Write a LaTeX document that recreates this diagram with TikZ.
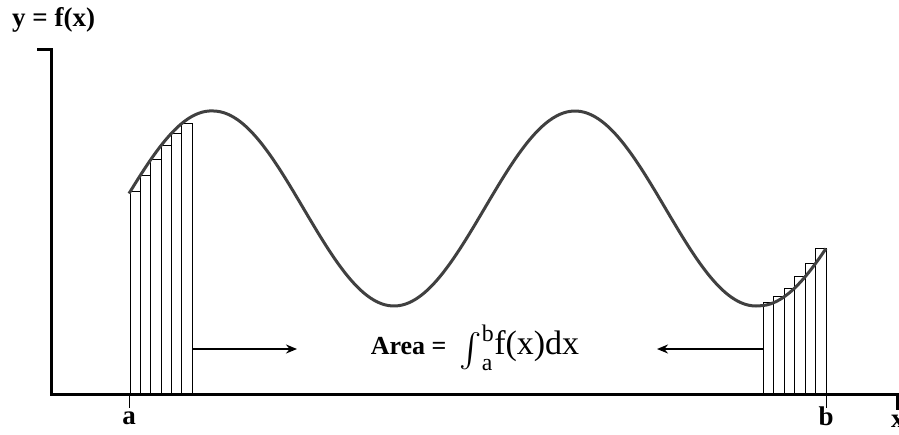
\RequirePackage{fix-cm}
\documentclass[tikz,border=0pt]{standalone}
\usepackage{exscale}
\usepackage{fontspec}
\setmainfont{Liberation Serif}
\usetikzlibrary{arrows.meta}

\begin{document}
\begin{tikzpicture}[x=1pt, y=-1pt,
  declare function={fx(\t)=208.5-97.5*cos(0.994475*(\t-213))
    -4*max(0,(214-\t)/85)+6*max(0,(\t-760)/66);},
  axis/.style={line width=3pt},
  strip/.style={draw, line width=1pt},
  curve/.style={line width=3pt, black!75},
  tick/.style={line width=1pt},
  lbl/.style={font=\fontsize{27}{30}\selectfont\bfseries, inner sep=0pt},
  pointer/.style={line width=2pt, -{Stealth[length=11pt, width=9pt]}}]
  \useasboundingbox (0,0) rectangle (899,434);

  % axes
  \coordinate (top) at (51.5,49.5);
  \coordinate (origin) at (51.5,394);
  \coordinate (xend) at (897,394);
  \draw[axis] (37,49.5) -- (top) -- (origin) -- (xend) -- (897,410);
  \node[lbl, anchor=west] (ylabel) at (12,20) {y = f(x)};
  \node[lbl, anchor=west] (xlabel) at (891,421) {x};

  % limits
  \draw[tick] (129,394) -- (129,408);
  \draw[tick] (826,394) -- (826,408);
  \node[lbl] (a) at (129,418) {a};
  \node[lbl] (b) at (826,416) {b};

  % strips under the curve
  \foreach \i in {0,...,5} {
    \pgfmathsetmacro\xl{130+\i*62/6}
    \draw[strip] (\xl,394) rectangle ({\xl+62/6},{fx(\xl)});
  }
  \foreach \i in {0,...,5} {
    \pgfmathsetmacro\xl{763+\i*63/6}
    \draw[strip] (\xl,394) rectangle ({\xl+10.5},{fx(\xl+10.5)});
  }

  % the function
  \draw[curve] plot[domain=129:826, samples=200, smooth] (\x,{fx(\x)});

  % area label
  \node[inner sep=0pt] (area) at (475,348)
    {\fontsize{26}{30}\selectfont\bfseries Area =\ \ \normalfont\fontsize{34}{36}\selectfont
     $\raisebox{-0.22em}{\scalebox{1.35}{$\int$}}_{\mathrm{a}}^{\mathrm{b}}$f(x)dx};
  \coordinate (lstrip) at (192,349);
  \coordinate (rstrip) at (763,349);
  \coordinate (ltip) at (297,349);
  \coordinate (rtip) at (657,349);
  \draw[pointer] (lstrip) -- (ltip);
  \draw[pointer] (rstrip) -- (rtip);
\end{tikzpicture}
\end{document}
